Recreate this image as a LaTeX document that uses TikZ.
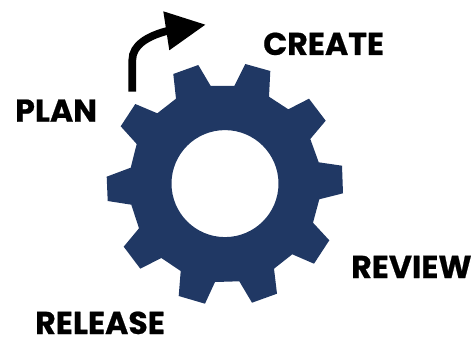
\documentclass[tikz,border=0pt]{standalone}
\usepackage{fontspec}
\setmainfont{Poppins}
\definecolor{gearblue}{HTML}{203864}
\tikzset{lbl/.style={anchor=base west,inner sep=0pt,font=\bfseries\fontsize{31.6}{32}\selectfont\addfontfeature{FakeBold=0.6},text=black}}
\begin{document}
\begin{tikzpicture}[x=1pt,y=-1pt]
\useasboundingbox (0,0) rectangle (474,337);
\fill[gearblue,even odd rule] (173.3,74)--(198.3,65)--(210.7,86)--(234.3,86)--(245.3,64)--(270.3,71)--(269,96.7)--(288.3,109.3)--(309,98.7)--(325.7,120.7)--(310.3,139)--(318.7,162.3)--(342,165.7)--(343,193.3)--(319.3,199.3)--(313,222.7)--(329.3,240.3)--(314,263.7)--(292.3,254.3)--(274,268.7)--(277,293.7)--(252,302.7)--(239.3,281.3)--(215,282)--(205,303.7)--(178.7,296)--(180.7,271)--(161.3,258)--(140.3,268.7)--(123.7,246.7)--(139,228.3)--(131.3,204.7)--(107.7,201)--(106.7,176.7)--(130.7,167.7)--(136.7,144)--(120.7,126.3)--(135.3,104)--(157.3,113.3)--(176,98.7)--cycle
(225,183.6) circle[radius=53.5];
\draw[line width=7.7pt] (132.3,91.7) -- (132.3,60) .. controls (132.3,45) and (148,36) .. (167,31);
\fill (163.3,11.3)--(205.3,24.7)--(169.3,50.3)--cycle;
\node[lbl] (create) at (263,55) {CREATE};
\node[lbl] (plan) at (15,121.7) {PLAN};
\node[lbl] (review) at (351,278) {REVIEW};
\node[lbl] (release) at (35,334) {RELEASE};
\end{tikzpicture}
\end{document}
